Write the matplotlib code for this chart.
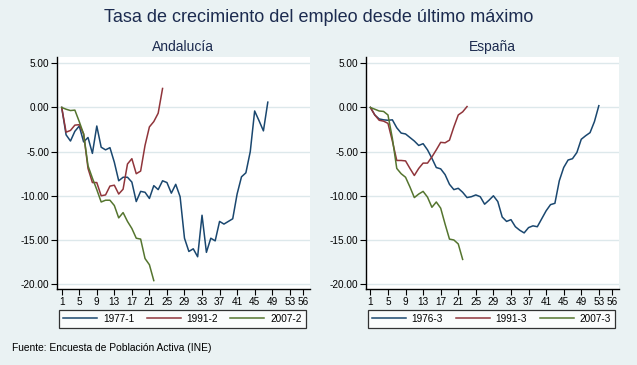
import matplotlib
matplotlib.use("Agg")
import matplotlib.pyplot as plt

plt.rcParams['font.family'] = ['Liberation Sans', 'DejaVu Sans']

# Andalucía (trimestres desde el último máximo)
and_1977 = [0, -3.1, -3.8, -2.7, -2.1, -3.9, -3.4, -5.2, -2.1, -4.5, -4.8, -4.55,
            -6.2, -8.3, -7.9, -7.9, -8.45, -10.65, -9.5, -9.6, -10.3, -8.85, -9.3,
            -8.3, -8.5, -9.7, -8.7, -10.1, -14.8, -16.3, -16.0, -16.9, -12.2, -16.4,
            -14.8, -15.1, -12.9, -13.2, -12.9, -12.6, -9.8, -7.85, -7.4, -5.0, -0.4,
            -1.5, -2.65, 0.6]
and_1991 = [0, -2.8, -2.6, -2.0, -1.95, -3.0, -6.9, -8.5, -8.5, -10.0, -9.9, -8.9,
            -8.8, -9.8, -9.25, -6.4, -5.8, -7.5, -7.2, -4.3, -2.2, -1.6, -0.65, 2.15]
and_2007 = [0, -0.2, -0.35, -0.3, -1.6, -3.0, -6.6, -8.0, -9.3, -10.7, -10.5, -10.5,
            -11.1, -12.5, -11.9, -12.9, -13.7, -14.8, -14.9, -17.1, -17.8, -19.6]

# España
esp_1976 = [0, -0.85, -1.3, -1.4, -1.45, -1.4, -2.3, -2.9, -3.0, -3.4, -3.8, -4.3,
            -4.1, -4.8, -5.75, -6.8, -6.95, -7.6, -8.7, -9.3, -9.15, -9.6, -10.2,
            -10.1, -9.9, -10.1, -10.95, -10.5, -10.0, -10.65, -12.4, -12.9, -12.7,
            -13.5, -13.9, -14.2, -13.6, -13.4, -13.5, -12.6, -11.7, -11.0, -10.85,
            -8.3, -6.8, -5.95, -5.8, -5.1, -3.6, -3.2, -2.85, -1.6, 0.2]
esp_1991 = [0, -0.85, -1.45, -1.55, -1.8, -3.8, -6.0, -6.0, -6.05, -6.9, -7.7, -6.9,
            -6.3, -6.3, -5.6, -4.8, -3.95, -4.0, -3.7, -2.2, -0.85, -0.5, 0.1]
esp_2007 = [0, -0.2, -0.4, -0.45, -0.85, -3.5, -6.9, -7.5, -7.9, -9.0, -10.2, -9.8,
            -9.5, -10.15, -11.3, -10.7, -11.4, -13.2, -14.9, -15.0, -15.45, -17.2]

xticks = [1, 5, 9, 13, 17, 21, 25, 29, 33, 37, 41, 45, 49, 53, 56]
yticks = [5, 0, -5, -10, -15, -20]
ytick_labels = ["5.00", "0.00", "-5.00", "-10.00", "-15.00", "-20.00"]

BG = "#EAF2F3"
NAVY = "#1A476F"
MAROON = "#90353B"
GREEN = "#55752F"
TXT = "#1C2B4F"

fig = plt.figure(figsize=(6.37, 3.65), dpi=100, facecolor=BG)

panels = [
    ("Andalucía", [0.0895, 0.2082, 0.397, 0.6356],
     [(and_1977, "1977-1", NAVY), (and_1991, "1991-2", MAROON), (and_2007, "2007-2", GREEN)]),
    ("España", [0.5741, 0.2082, 0.3977, 0.6356],
     [(esp_1976, "1976-3", NAVY), (esp_1991, "1991-3", MAROON), (esp_2007, "2007-3", GREEN)]),
]

for name, pos, series in panels:
    ax = fig.add_axes(pos)
    ax.set_facecolor("white")
    for vals, lab, col in series:
        ax.plot(range(1, len(vals) + 1), vals, color=col, lw=1.1, label=lab)
    ax.set_xlim(-0.07, 57.6)
    ax.set_ylim(-20.55, 5.71)
    ax.set_xticks(xticks)
    ax.set_yticks(yticks)
    ax.set_yticklabels(ytick_labels)
    ax.tick_params(labelsize=7.2, length=4, width=0.8, pad=1.5, colors="black")
    ax.yaxis.grid(True, color="#DDE8EB", lw=1.0)
    ax.set_axisbelow(True)
    for s in ["top", "right"]:
        ax.spines[s].set_visible(False)
    for s in ["left", "bottom"]:
        ax.spines[s].set_linewidth(1.0)
    ax.set_title(name, fontsize=10, color=TXT, pad=4)
    leg = ax.legend(loc="upper left", bbox_to_anchor=(0.008, -0.168, 0.976, 0.078),
                    mode="expand", ncol=3, fontsize=7.2, frameon=True, fancybox=False,
                    handlelength=3.4, borderpad=0.4, borderaxespad=0, handletextpad=0.6)
    leg.get_frame().set_edgecolor("black")
    leg.get_frame().set_linewidth(0.9)

fig.text(0.5, 0.951, "Tasa de crecimiento del empleo desde último máximo",
         ha="center", va="center", fontsize=13, color=TXT)
fig.text(12 / 637, 1 - 348 / 365, "Fuente: Encuesta de Población Activa (INE)",
         ha="left", va="center", fontsize=7.4, color="black")

fig.savefig("out.png", dpi=100, facecolor=BG)
